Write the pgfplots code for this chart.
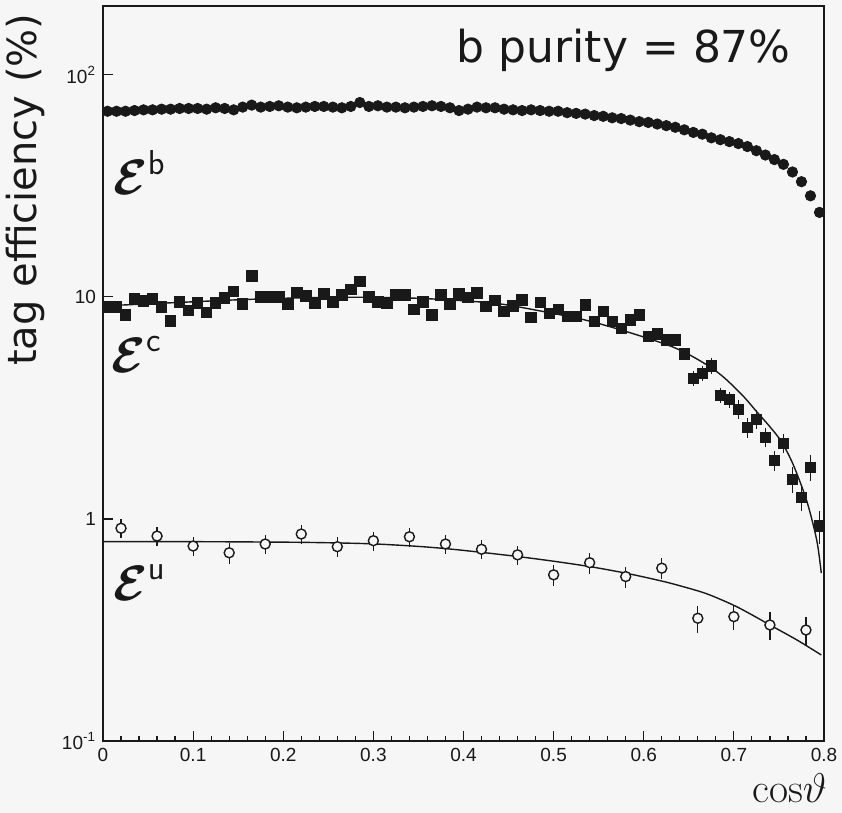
\documentclass[border=0pt]{standalone}
\usepackage{amsmath}
\usepackage{bm}
\usepackage[no-math]{fontspec}
\setmainfont{Liberation Sans}
\newfontfamily\labelfont{DejaVu Sans}
\usepackage{pgfplots}
\pgfplotsset{compat=1.18}
\usepackage{pgfplotstable}
\usetikzlibrary{backgrounds}
\definecolor{bg}{RGB}{246,246,246}
\definecolor{ink}{RGB}{25,25,25}

\pgfplotstableread{
x y
0.005 68.5
0.015 68.5
0.025 68.5
0.035 69
0.045 69.5
0.055 69.5
0.065 70
0.075 70
0.085 70.5
0.095 70.5
0.105 70.5
0.115 70
0.125 71
0.135 70.5
0.145 69.5
0.155 71.5
0.165 73
0.175 71.5
0.185 72
0.195 72.5
0.205 71.5
0.215 71
0.225 71.5
0.235 72
0.245 72
0.255 71.5
0.265 71
0.275 72
0.285 75
0.295 72
0.305 72.5
0.315 71.5
0.325 71.5
0.335 71
0.345 71.5
0.355 72
0.365 72.5
0.375 72
0.385 71
0.395 69
0.405 70
0.415 71.5
0.425 71
0.435 71
0.445 70
0.455 69.5
0.465 69
0.475 69.5
0.485 69
0.495 68.5
0.505 68.5
0.515 67.5
0.525 67
0.535 66.5
0.545 65.5
0.555 65
0.565 64
0.575 63.5
0.585 62.5
0.595 61.5
0.605 61
0.615 60
0.625 59
0.635 58
0.645 56.5
0.655 55
0.665 54
0.675 52
0.685 51
0.695 50
0.705 49
0.715 47.5
0.725 45.5
0.735 43.5
0.745 41.5
0.755 39.5
0.765 36.5
0.775 33
0.785 28.5
0.795 24
}\bdata

\pgfplotstableread{
x y e
0.005 9.0 0.03
0.015 9.0 0.03
0.025 8.3 0.03
0.035 9.8 0.03
0.045 9.6 0.03
0.055 9.8 0.03
0.065 9.0 0.03
0.075 7.8 0.03
0.085 9.5 0.03
0.095 8.7 0.03
0.105 9.4 0.03
0.115 8.5 0.03
0.125 9.4 0.03
0.135 9.9 0.03
0.145 10.6 0.03
0.155 9.3 0.03
0.165 12.4 0.03
0.175 10.0 0.03
0.185 10.0 0.03
0.195 10.0 0.03
0.205 9.3 0.03
0.215 10.45 0.03
0.225 10.1 0.03
0.235 9.4 0.03
0.245 10.3 0.03
0.255 9.5 0.03
0.265 10.2 0.03
0.275 10.8 0.03
0.285 11.7 0.03
0.295 10.0 0.03
0.305 9.5 0.03
0.315 9.4 0.03
0.325 10.2 0.03
0.335 10.2 0.03
0.345 8.8 0.03
0.355 9.5 0.03
0.365 8.3 0.03
0.375 10.2 0.03
0.385 9.3 0.03
0.395 10.3 0.03
0.405 9.95 0.03
0.415 10.4 0.03
0.425 9.04 0.03
0.435 9.62 0.03
0.445 8.58 0.03
0.455 9.1 0.03
0.465 9.69 0.03
0.475 8.09 0.03
0.485 9.42 0.03
0.495 8.44 0.03
0.505 8.8 0.03
0.515 8.15 0.03
0.525 8.15 0.03
0.535 9.2 0.03
0.545 7.75 0.03
0.555 8.58 0.05
0.565 7.75 0.05
0.575 7.23 0.05
0.585 7.88 0.05
0.595 8.3 0.05
0.605 6.63 0.05
0.615 6.81 0.05
0.625 6.4 0.05
0.635 6.4 0.05
0.645 5.53 0.05
0.655 4.3 0.08
0.665 4.53 0.08
0.675 4.89 0.08
0.685 3.6 0.08
0.695 3.45 0.08
0.705 3.12 0.1
0.715 2.58 0.1
0.725 2.81 0.1
0.735 2.33 0.1
0.745 1.83 0.1
0.755 2.19 0.1
0.765 1.51 0.13
0.775 1.25 0.13
0.785 1.71 0.13
0.795 0.93 0.17
}\cdata

\pgfplotstableread{
x y
0.000 9.1
0.050 9.3
0.100 9.5
0.150 9.7
0.200 9.85
0.250 9.95
0.300 9.95
0.350 9.85
0.400 9.6
0.440 9.3
0.478 8.75
0.533 7.9
0.577 7.05
0.626 6.08
0.650 5.5
0.673 4.85
0.690 4.3
0.711 3.55
0.725 3.05
0.740 2.6
0.753 2.22
0.766 1.75
0.781 1.2
0.792 0.80
0.797 0.57
}\cfit

\pgfplotstableread{
x y e
0.02 0.908 0.1
0.06 0.837 0.1
0.10 0.755 0.1
0.14 0.704 0.11
0.18 0.771 0.1
0.22 0.855 0.1
0.26 0.750 0.1
0.30 0.798 0.1
0.34 0.831 0.1
0.38 0.771 0.1
0.42 0.730 0.1
0.46 0.689 0.1
0.50 0.560 0.11
0.54 0.635 0.11
0.58 0.550 0.11
0.62 0.600 0.11
0.66 0.357 0.14
0.70 0.363 0.13
0.74 0.333 0.14
0.78 0.316 0.14
}\udata

\pgfplotstableread{
x y
0.000 0.79
0.100 0.79
0.200 0.786
0.250 0.781
0.300 0.772
0.350 0.752
0.385 0.732
0.420 0.707
0.459 0.678
0.500 0.645
0.540 0.610
0.580 0.570
0.620 0.525
0.644 0.495
0.670 0.46
0.699 0.41
0.720 0.37
0.740 0.333
0.770 0.285
0.797 0.244
}\ufit

\begin{document}
\begin{tikzpicture}
\begin{axis}[
  scale only axis, width=360.5pt, height=367.5pt,
  ymode=log, log basis y=10,
  xmin=0, xmax=0.8, ymin=0.1, ymax=204,
  axis line style={line width=0.8pt, draw=ink},
  xtick={0,0.1,0.2,0.3,0.4,0.5,0.6,0.7,0.8},
  xticklabels={0,0.1,0.2,0.3,0.4,0.5,0.6,0.7,0.8},
  minor x tick num=4,
  ytick={0.1,1,10,100},
  yticklabels={10\textsuperscript{-1},1,10,10\textsuperscript{2}},
  tick align=inside, xtick pos=left, ytick pos=left,
  major tick length=5pt, minor tick length=2.5pt,
  tick style={draw=ink, line width=0.6pt},
  ticklabel style={font=\fontsize{9.5}{11}\selectfont, text=ink},
  /pgf/number format/assume math mode=true,
  clip=false,
]
\addplot[only marks, mark=*, mark size=2.6pt, color=ink] table[x=x,y=y] {\bdata};
\addplot[ink, line width=0.7pt, smooth, no marks] table[x=x,y=y] {\cfit};
\addplot[only marks, mark=square*, mark size=2.6pt, color=ink,
  error bars/.cd, y dir=both, y explicit relative, error mark=none,
  error bar style={line width=0.6pt, draw=ink}]
  table[x=x,y=y,y error=e] {\cdata};
\addplot[ink, line width=0.7pt, smooth, no marks] table[x=x,y=y] {\ufit};
\addplot[only marks, mark=*, mark size=2.5pt, color=ink,
  mark options={fill=bg, draw=ink, line width=0.7pt},
  error bars/.cd, y dir=both, y explicit relative, error mark=none,
  error bar style={line width=0.6pt, draw=ink}]
  table[x=x,y=y,y error=e] {\udata};

\node[anchor=base east, font=\labelfont\fontsize{22}{25}\selectfont, text=ink] at (axis cs:0.771,114) {b purity = 87\%};
\node[anchor=base west, font=\fontsize{25}{28}\selectfont, text=ink] at (axis cs:0.004,28.8) {$\bm{\mathcal{E}}^{\mathsf{b}}$};
\node[anchor=base west, font=\fontsize{25}{28}\selectfont, text=ink] at (axis cs:0.002,4.55) {$\bm{\mathcal{E}}^{\mathsf{c}}$};
\node[anchor=base west, font=\fontsize{25}{28}\selectfont, text=ink] at (axis cs:0.004,0.43) {$\bm{\mathcal{E}}^{\mathsf{u}}$};
\node[rotate=90, anchor=center, font=\labelfont\fontsize{20}{23}\selectfont, text=ink] at (axis description cs:-0.107,0.75) {tag efficiency (\%)};
\node[anchor=base east, xshift=5pt, yshift=-31pt, font=\fontsize{20}{23}\selectfont, text=ink] at (rel axis cs:1,0) {$\mathrm{cos}\vartheta$};
\coordinate (sw) at (rel axis cs:0,0);
\coordinate (ne) at (rel axis cs:1,1);
\end{axis}
\pgfresetboundingbox
\path ([shift={(-51.5pt,-36pt)}]sw) rectangle ([shift={(9pt,3pt)}]ne);
\begin{scope}[on background layer]
\fill[bg] ([shift={(-51.5pt,-36pt)}]sw) rectangle ([shift={(9pt,3pt)}]ne);
\end{scope}
\end{tikzpicture}
\end{document}
